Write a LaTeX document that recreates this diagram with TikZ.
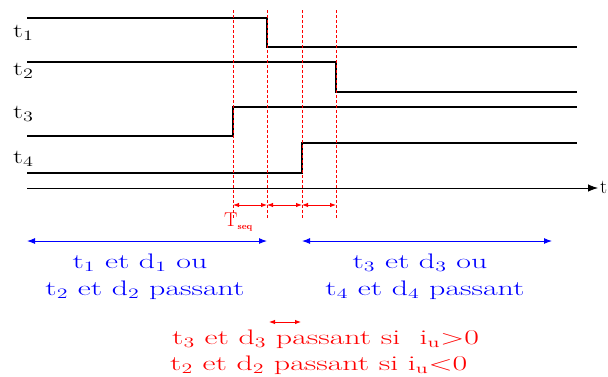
\documentclass[tikz,border=0pt]{standalone}
\usepackage{graphicx}
\usetikzlibrary{arrows.meta}
\newcommand{\wide}[1]{\scalebox{1.52}[1]{#1}}
\begin{document}
\begin{tikzpicture}[x=1pt,y=-1pt,
    sig/.style={line width=2pt},
    seqline/.style={red,densely dashed,line width=0.6pt},
    seqarrow/.style={red,line width=0.9pt,{Latex[length=6pt]}-{Latex[length=6pt]}},
    phase/.style={blue,line width=1pt,{Latex[length=8pt]}-{Latex[length=8pt]}},
    txt/.style={font=\fontsize{21}{21}\selectfont,inner sep=0pt,anchor=base}]
\useasboundingbox (0,0) rectangle (608,376);
% Draw signals
\draw[sig] (27,18) -- (267,18) -- (267,47) -- (577,47);
\draw[sig] (27,62) -- (336,62) -- (336,92) -- (577,92);
\draw[sig] (27,136) -- (233,136) -- (233,107) -- (577,107);
\draw[sig] (27,173) -- (302,173) -- (302,143) -- (577,143);
\foreach \i/\y in {1/37,2/75,3/118,4/163}
  \node[txt,anchor=base west,font=\fontsize{20}{20}\selectfont] (lbl\i) at (13,\y) {\scalebox{1.4}[1]{t$_\i$}};

% Time axis
\coordinate (t0) at (27,188);
\node[txt,anchor=base west,font=\fontsize{20}{20}\selectfont] (t) at (600,193) {t};
\draw[line width=0.8pt,-{Latex[length=10pt]}] (t0) -- (598,188);

% Dashed lines and T_seq intervals
\foreach \x/\n in {233/a,267/b,302/c,336/d} {
  \draw[seqline] (\x,10) -- (\x,218);
  \coordinate (\n) at (\x,205);
}
\draw[seqarrow] (a) -- (b);
\draw[seqarrow] (b) -- (c);
\draw[seqarrow] (c) -- (d);
\node[txt,red,anchor=base west,font=\fontsize{20}{20}\selectfont] (tseq) at (224,226) {T\textsubscript{\fontsize{9}{9}\selectfont\bfseries seq}};

% Conduction phases
\coordinate (l0) at (27,241);
\coordinate (l1) at (267,241);
\coordinate (r0) at (302,241);
\coordinate (r1) at (552,241);
\draw[phase] (l0) -- (l1);
\draw[phase] (r0) -- (r1);
\node[txt,blue] (left1) at (140,268) {\wide{t$_1$ et d$_1$ ou}};
\node[txt,blue] (left2) at (145,295) {\wide{t$_2$ et d$_2$ passant}};
\node[txt,blue] (right1) at (420,268) {\wide{t$_3$ et d$_3$ ou}};
\node[txt,blue] (right2) at (425,295) {\wide{t$_4$ et d$_4$ passant}};

% Conditions
\node[txt,red,anchor=base west] (cond1) at (172,344) {\wide{t$_3$ et d$_3$ passant si~ i$_{\mathrm{u}}$$>$0}};
\node[txt,red,anchor=base west] (cond2) at (170,370) {\wide{t$_2$ et d$_2$ passant si i$_{\mathrm{u}}$$<$0}};
\coordinate (c0) at (269,322);
\coordinate (c1) at (301,322);
\draw[seqarrow] (c0) -- (c1);
\end{tikzpicture}
\end{document}
